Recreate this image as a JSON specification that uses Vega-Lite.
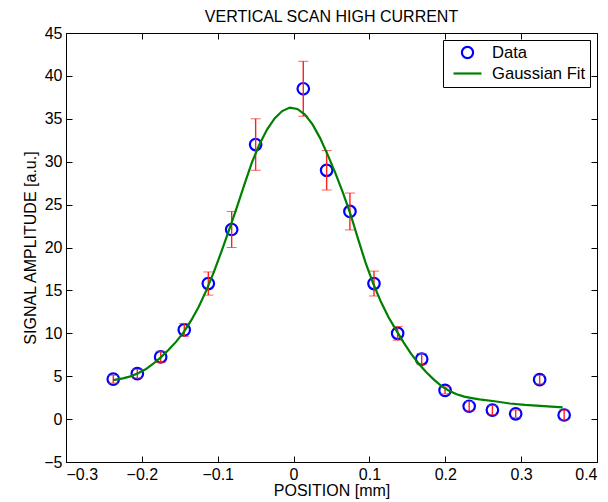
{
  "$schema": "https://vega.github.io/schema/vega-lite/v6.json",
  "width": 531,
  "height": 429,
  "autosize": {"type": "none"},
  "padding": {"left": 66, "top": 33, "right": 11, "bottom": 40},
  "background": "white",
  "config": {
    "font": "Liberation Sans",
    "view": {"stroke": "black", "strokeWidth": 1},
    "axis": {
      "grid": false,
      "domainColor": "black",
      "tickColor": "black",
      "labelColor": "black",
      "titleColor": "black",
      "labelFont": "Liberation Sans",
      "titleFont": "Liberation Sans",
      "labelFontSize": 16,
      "titleFontSize": 16,
      "titleFontWeight": "normal",
      "tickSize": -6,
      "labelPadding": 10
    },
    "legend": {
      "orient": "top-right", "offset": 7, "strokeColor": "black", "fillColor": "white",
      "padding": 4, "symbolOffset": 12, "labelFontSize": 16.6, "labelFont": "Liberation Sans",
      "labelColor": "black", "symbolSize": 196, "symbolStrokeWidth": 2.2, "rowPadding": 2,
      "labelOffset": 16, "symbolFillColor": "transparent"
    },
    "title": {"font": "Liberation Sans", "fontSize": 16, "fontWeight": "normal", "color": "black"}
  },
  "title": {"text": "VERTICAL SCAN HIGH CURRENT", "offset": 0},
  "datasets": {
    "pts": [
      {"x": -0.2377, "y": 4.66, "lo": 4.2, "hi": 5.1, "series": "Data"},
      {"x": -0.2060, "y": 5.3, "lo": 4.8, "hi": 5.8, "series": "Data"},
      {"x": -0.1752, "y": 7.25, "lo": 6.6, "hi": 7.9, "series": "Data"},
      {"x": -0.1441, "y": 10.4, "lo": 9.65, "hi": 11.15, "series": "Data"},
      {"x": -0.1124, "y": 15.8, "lo": 14.45, "hi": 17.15, "series": "Data"},
      {"x": -0.0816, "y": 22.1, "lo": 20.0, "hi": 24.2, "series": "Data"},
      {"x": -0.0500, "y": 32.0, "lo": 29.0, "hi": 35.0, "series": "Data"},
      {"x": 0.0128, "y": 38.5, "lo": 35.3, "hi": 41.7, "series": "Data"},
      {"x": 0.0436, "y": 29.0, "lo": 26.7, "hi": 31.3, "series": "Data"},
      {"x": 0.0743, "y": 24.2, "lo": 22.05, "hi": 26.35, "series": "Data"},
      {"x": 0.1060, "y": 15.8, "lo": 14.35, "hi": 17.25, "series": "Data"},
      {"x": 0.1372, "y": 10.0, "lo": 9.2, "hi": 10.8, "series": "Data"},
      {"x": 0.1689, "y": 7.0, "lo": 6.35, "hi": 7.65, "series": "Data"},
      {"x": 0.1997, "y": 3.35, "lo": 2.95, "hi": 3.75, "series": "Data"},
      {"x": 0.2315, "y": 1.5, "lo": 0.95, "hi": 2.05, "series": "Data"},
      {"x": 0.2621, "y": 1.05, "lo": 0.5, "hi": 1.6, "series": "Data"},
      {"x": 0.2928, "y": 0.62, "lo": 0.2, "hi": 1.05, "series": "Data"},
      {"x": 0.3244, "y": 4.6, "lo": 4.1, "hi": 5.1, "series": "Data"},
      {"x": 0.3567, "y": 0.48, "lo": -0.1, "hi": 1.05, "series": "Data"}
    ],
    "fit": [
      {"x": -0.2377, "y": 4.55, "series": "Gaussian Fit"},
      {"x": -0.225, "y": 4.75, "series": "Gaussian Fit"},
      {"x": -0.215, "y": 4.98, "series": "Gaussian Fit"},
      {"x": -0.205, "y": 5.35, "series": "Gaussian Fit"},
      {"x": -0.195, "y": 5.8, "series": "Gaussian Fit"},
      {"x": -0.185, "y": 6.45, "series": "Gaussian Fit"},
      {"x": -0.175, "y": 7.2, "series": "Gaussian Fit"},
      {"x": -0.165, "y": 8.05, "series": "Gaussian Fit"},
      {"x": -0.155, "y": 9.0, "series": "Gaussian Fit"},
      {"x": -0.145, "y": 10.1, "series": "Gaussian Fit"},
      {"x": -0.135, "y": 11.5, "series": "Gaussian Fit"},
      {"x": -0.125, "y": 13.1, "series": "Gaussian Fit"},
      {"x": -0.115, "y": 15.0, "series": "Gaussian Fit"},
      {"x": -0.105, "y": 17.15, "series": "Gaussian Fit"},
      {"x": -0.095, "y": 19.55, "series": "Gaussian Fit"},
      {"x": -0.085, "y": 22.06, "series": "Gaussian Fit"},
      {"x": -0.075, "y": 24.62, "series": "Gaussian Fit"},
      {"x": -0.065, "y": 27.3, "series": "Gaussian Fit"},
      {"x": -0.055, "y": 29.9, "series": "Gaussian Fit"},
      {"x": -0.045, "y": 32.0, "series": "Gaussian Fit"},
      {"x": -0.035, "y": 33.75, "series": "Gaussian Fit"},
      {"x": -0.025, "y": 35.05, "series": "Gaussian Fit"},
      {"x": -0.015, "y": 35.9, "series": "Gaussian Fit"},
      {"x": -0.005, "y": 36.31, "series": "Gaussian Fit"},
      {"x": 0.005, "y": 36.15, "series": "Gaussian Fit"},
      {"x": 0.015, "y": 35.5, "series": "Gaussian Fit"},
      {"x": 0.025, "y": 34.35, "series": "Gaussian Fit"},
      {"x": 0.035, "y": 32.75, "series": "Gaussian Fit"},
      {"x": 0.045, "y": 30.8, "series": "Gaussian Fit"},
      {"x": 0.055, "y": 28.7, "series": "Gaussian Fit"},
      {"x": 0.065, "y": 26.4, "series": "Gaussian Fit"},
      {"x": 0.075, "y": 23.9, "series": "Gaussian Fit"},
      {"x": 0.085, "y": 21.0, "series": "Gaussian Fit"},
      {"x": 0.095, "y": 18.2, "series": "Gaussian Fit"},
      {"x": 0.105, "y": 15.8, "series": "Gaussian Fit"},
      {"x": 0.115, "y": 13.7, "series": "Gaussian Fit"},
      {"x": 0.125, "y": 11.9, "series": "Gaussian Fit"},
      {"x": 0.135, "y": 10.4, "series": "Gaussian Fit"},
      {"x": 0.145, "y": 8.95, "series": "Gaussian Fit"},
      {"x": 0.155, "y": 7.6, "series": "Gaussian Fit"},
      {"x": 0.165, "y": 6.45, "series": "Gaussian Fit"},
      {"x": 0.175, "y": 5.45, "series": "Gaussian Fit"},
      {"x": 0.185, "y": 4.6, "series": "Gaussian Fit"},
      {"x": 0.195, "y": 3.85, "series": "Gaussian Fit"},
      {"x": 0.205, "y": 3.3, "series": "Gaussian Fit"},
      {"x": 0.215, "y": 2.9, "series": "Gaussian Fit"},
      {"x": 0.225, "y": 2.62, "series": "Gaussian Fit"},
      {"x": 0.235, "y": 2.45, "series": "Gaussian Fit"},
      {"x": 0.245, "y": 2.3, "series": "Gaussian Fit"},
      {"x": 0.265, "y": 2.08, "series": "Gaussian Fit"},
      {"x": 0.285, "y": 1.82, "series": "Gaussian Fit"},
      {"x": 0.305, "y": 1.66, "series": "Gaussian Fit"},
      {"x": 0.325, "y": 1.55, "series": "Gaussian Fit"},
      {"x": 0.3547, "y": 1.36, "series": "Gaussian Fit"}
    ]
  },
  "resolve": {"axis": {"x": "independent", "y": "independent"}},
  "layer": [
    {
      "data": {"name": "pts"},
      "mark": {"type": "point", "filled": false, "strokeWidth": 2.2, "size": 207, "opacity": 1},
      "encoding": {
        "x": {"field": "x", "type": "quantitative",
              "scale": {"domain": [-0.3, 0.4], "nice": false, "zero": false},
              "axis": {"orient": "bottom", "title": "POSITION [mm]", "values": [-0.3, -0.2, -0.1, 0, 0.1, 0.2, 0.3, 0.4], "format": ".1~f", "titlePadding": 0}},
        "y": {"field": "y", "type": "quantitative",
              "scale": {"domain": [-5, 45], "nice": false, "zero": false},
              "axis": {"orient": "left", "title": "SIGNAL AMPLITUDE [a.u.]", "values": [-5, 0, 5, 10, 15, 20, 25, 30, 35, 40, 45], "labelPadding": 10, "titlePadding": 5}},
        "color": {"field": "series", "type": "nominal",
                  "scale": {"domain": ["Data", "Gaussian Fit"], "range": ["#0000ff", "#008000"]},
                  "legend": {"title": null}},
        "shape": {"field": "series", "type": "nominal",
                  "scale": {"domain": ["Data", "Gaussian Fit"], "range": ["M-0.8,0A0.8,0.8,0,1,1,0.8,0A0.8,0.8,0,1,1,-0.8,0Z", "M-2,0L2,0"]},
                  "legend": {"title": null}}
      }
    },
    {
      "data": {"name": "pts"},
      "mark": {"type": "errorbar", "ticks": {"size": 10, "strokeWidth": 1.4}, "rule": {"strokeWidth": 1.4}, "color": "#ff2020"},
      "encoding": {
        "x": {"field": "x", "type": "quantitative", "axis": null},
        "y": {"field": "lo", "type": "quantitative", "axis": null},
        "y2": {"field": "hi"}
      }
    },
    {
      "data": {"name": "fit"},
      "mark": {"type": "line", "strokeWidth": 2.2},
      "encoding": {
        "x": {"field": "x", "type": "quantitative",
              "axis": {"orient": "top", "title": null, "labels": false, "domain": false, "values": [-0.3, -0.2, -0.1, 0, 0.1, 0.2, 0.3, 0.4]}},
        "y": {"field": "y", "type": "quantitative",
              "axis": {"orient": "right", "title": null, "labels": false, "domain": false, "values": [-5, 0, 5, 10, 15, 20, 25, 30, 35, 40, 45]}},
        "color": {"field": "series", "type": "nominal", "legend": {"title": null}}
      }
    }
  ]
}
